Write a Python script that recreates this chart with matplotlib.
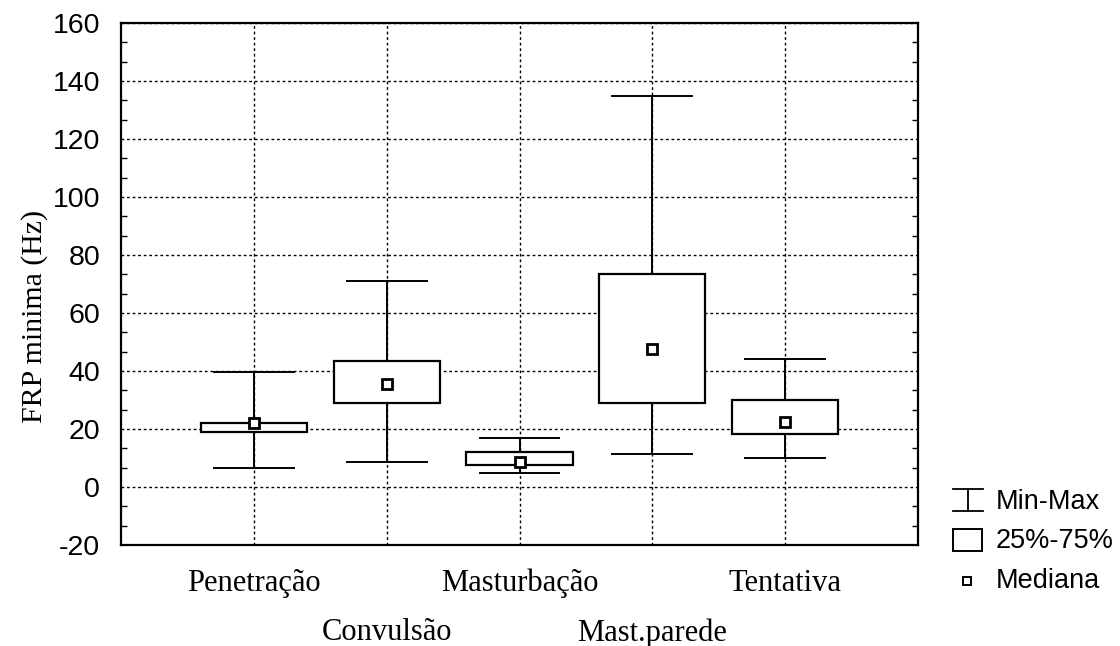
import matplotlib
matplotlib.use("Agg")
import matplotlib.pyplot as plt
from matplotlib.patches import Rectangle
from matplotlib.ticker import MultipleLocator

plt.rcParams["axes.unicode_minus"] = False

categories = ["Penetração", "Convulsão", "Masturbação", "Mast.parede", "Tentativa"]
minimum = [6.5, 8.5, 4.8, 11.5, 10.0]
q1 = [19.0, 29.0, 7.5, 29.0, 18.2]
median = [22.0, 35.5, 8.5, 47.5, 22.5]
q3 = [22.0, 43.5, 12.0, 73.5, 30.0]
maximum = [39.5, 71.0, 17.0, 135.0, 44.0]
yticks = [-20, 0, 20, 40, 60, 80, 100, 120, 140, 160]
legend_labels = ["Min-Max", "25%-75%", "Mediana"]

W, H = 1120, 646
fig = plt.figure(figsize=(W / 100, H / 100), dpi=100)
ax = fig.add_axes([121 / W, 1 - 545 / H, 797 / W, 522 / H])

pos = list(range(1, len(categories) + 1))
box_w = 0.8
cap_w = 0.6

# whiskers and caps
for x, lo, b1, b3, hi in zip(pos, minimum, q1, q3, maximum):
    ax.plot([x, x], [lo, b1], color="black", lw=1.4, zorder=3)
    ax.plot([x, x], [b3, hi], color="black", lw=1.4, zorder=3)
    ax.plot([x - cap_w / 2, x + cap_w / 2], [lo, lo], color="black", lw=1.4, zorder=3)
    ax.plot([x - cap_w / 2, x + cap_w / 2], [hi, hi], color="black", lw=1.4, zorder=3)
    ax.add_patch(Rectangle((x - box_w / 2, b1), box_w, b3 - b1,
                           facecolor="white", edgecolor="black", lw=1.6, zorder=4))

ax.plot(pos, median, ls="none", marker="s", ms=7.5, mfc="white", mec="black", mew=2, zorder=5)

ax.set_xlim(0, 6)
ax.set_ylim(-20, 160)
ax.set_yticks(yticks)
ax.set_xticks(pos)
ax.set_xticklabels([])
ax.yaxis.set_minor_locator(MultipleLocator(20 / 3))
ax.tick_params(axis="x", length=0)
ax.tick_params(axis="y", which="major", length=0, pad=15, labelsize=20.5)
ax.tick_params(axis="y", which="minor", direction="in", length=4, width=1, right=True)
for lab in ax.get_yticklabels():
    lab.set_fontfamily("Liberation Sans")
ax.grid(True, which="major", color="black", ls=(0, (2, 2)), lw=1.0, zorder=1)
ax.set_axisbelow(True)
for s in ax.spines.values():
    s.set_linewidth(1.6)

# staggered category labels
for i, (x, name) in enumerate(zip(pos, categories)):
    yoff = -24 if i % 2 == 0 else -73
    ax.annotate(name, (x, -20), xytext=(0, yoff), textcoords="offset pixels",
                ha="center", va="top", fontsize=22, family="Liberation Serif")

fig.text(35 / W, 1 - 316 / H, "FRP minima (Hz)", rotation=90, ha="center", va="center",
         fontsize=21.5, family="Liberation Serif")

# legend drawn in pixel coordinates
lg = fig.add_axes([0, 0, 1, 1])
lg.set_xlim(0, W)
lg.set_ylim(H, 0)
lg.axis("off")
lg.plot([953, 983], [489, 489], color="black", lw=1.3)
lg.plot([953, 983], [511, 511], color="black", lw=1.3)
lg.plot([968, 968], [489, 511], color="black", lw=1.3)
lg.add_patch(Rectangle((953, 529), 29, 22, facecolor="white", edgecolor="black", lw=1.4))
lg.plot([967], [581], marker="s", ms=6, mfc="white", mec="black", mew=1.4)
for y, t in zip([502, 541, 581], legend_labels):
    lg.text(996, y, t, ha="left", va="center", fontsize=19.5, family="Liberation Sans")

fig.savefig("out.png", dpi=100)
